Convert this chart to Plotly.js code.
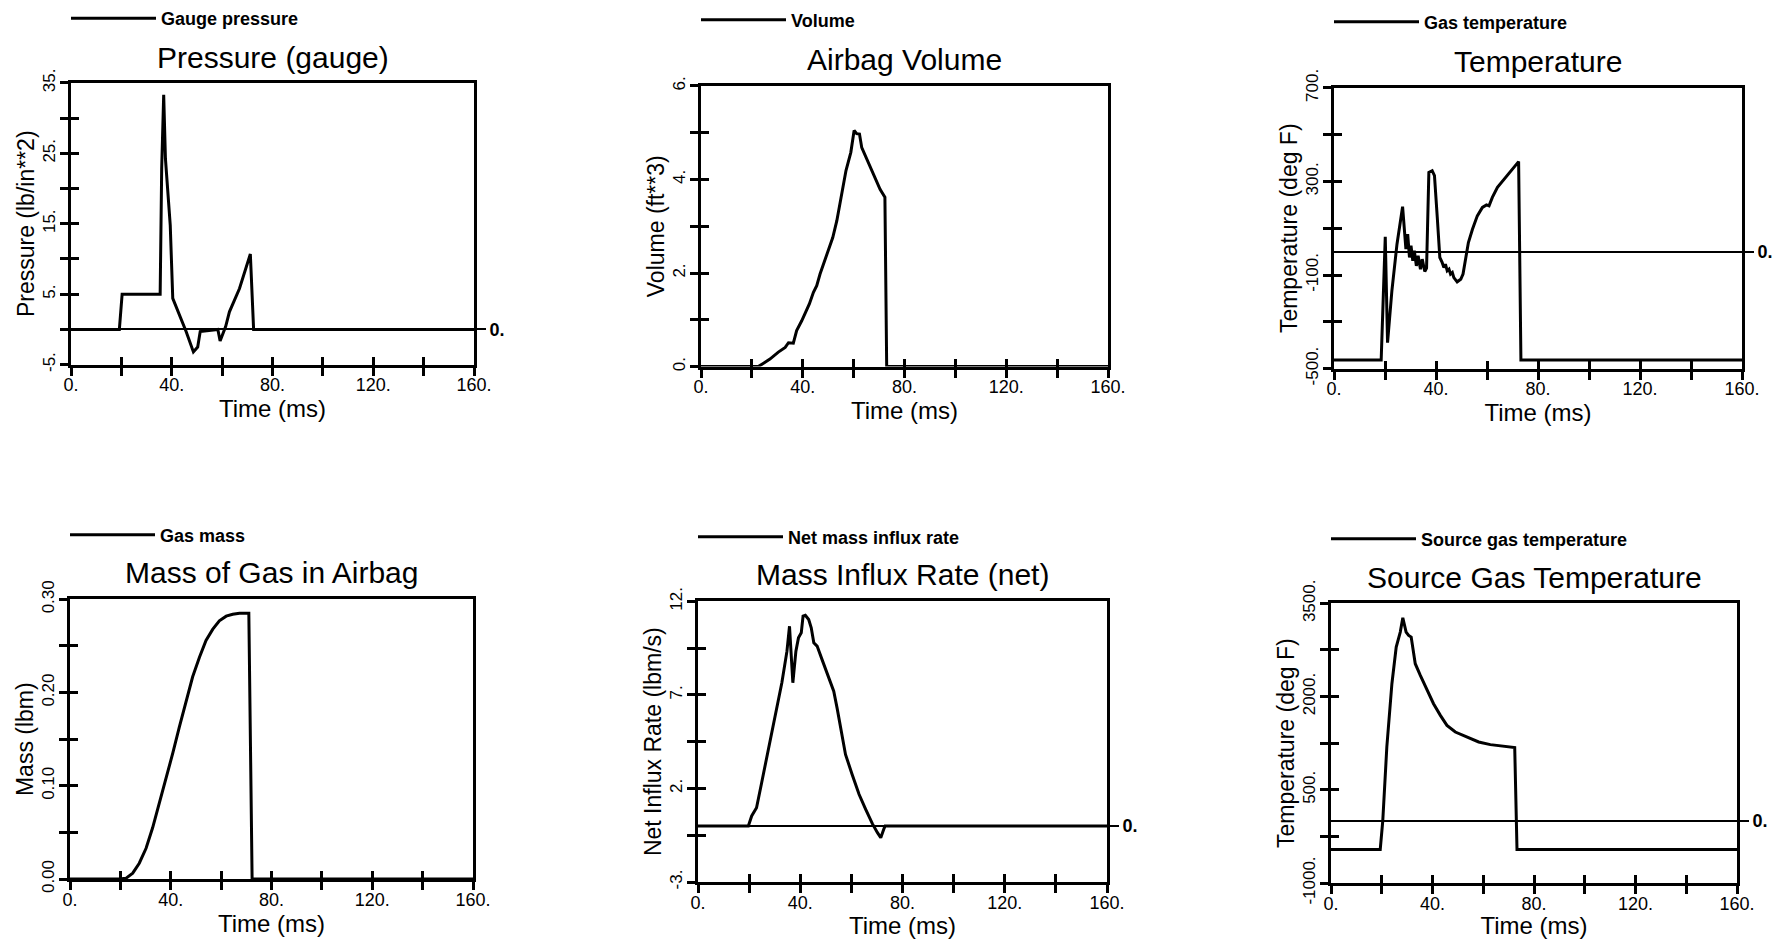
<!DOCTYPE html>
<html><head><meta charset="utf-8">
<script src="https://cdn.plot.ly/plotly-3.0.1.min.js"></script>
<style>html,body{margin:0;padding:0;background:#fff;}#chart{width:1776px;height:939px;}</style>
</head><body><div id="chart"></div>
<script>
// ---------- data ----------
const xTickVals = [0, 20, 40, 60, 80, 100, 120, 140, 160];
const xTickText = ['0.', '', '40.', '', '80.', '', '120.', '', '160.'];

const timePressure = [0, 19.2, 20.3, 35.4, 36.0, 36.8, 37.5, 39.4, 40.4, 45.7, 48.6, 50.3, 51.3, 58.3, 59.2, 61.4, 62.9, 66.9, 71.2, 72.5, 160];
const gaugePressure = [0, 0, 5.0, 5.0, 22.8, 33.3, 24.2, 14.8, 4.4, -0.3, -3.2, -2.5, -0.3, 0, -1.65, 0.4, 2.5, 5.8, 10.7, 0, 0];
const pressureTickVals = [-5, 0, 5, 10, 15, 20, 25, 30, 35];
const pressureTickText = ['-5.', '', '5.', '', '15.', '', '25.', '', '35.'];

const timeVolume = [0, 22.5, 27.1, 30.4, 33.1, 34.4, 36.3, 37.6, 39.6, 40.9, 42.6, 44.2, 45.5, 46.8, 48.8, 50.5, 51.8, 53.4, 55.3, 57.0, 58.9, 60.2, 61.2, 62.3, 63.2, 70.4, 72.3, 73.0, 160];
const volume = [0, 0, 0.16, 0.31, 0.41, 0.51, 0.50, 0.77, 0.98, 1.13, 1.34, 1.59, 1.73, 1.98, 2.30, 2.55, 2.76, 3.12, 3.69, 4.19, 4.58, 5.05, 4.98, 4.97, 4.68, 3.79, 3.62, 0, 0];
const volumeTickVals = [0, 1, 2, 3, 4, 5, 6];
const volumeTickText = ['0.', '', '2.', '', '4.', '', '6.'];

const timeGasTemp = [0, 18.5, 20.1, 21.0, 22.7, 24.7, 26.9, 27.7, 28.2, 28.9, 29.6, 30.2, 30.9, 31.5, 32.3, 33.0, 33.9, 34.6, 35.6, 36.3, 37.2, 38.5, 39.4, 40.5, 41.5, 42.4, 43.1, 43.7, 44.4, 45.1, 45.7, 46.4, 47.0, 48.3, 49.7, 50.6, 51.6, 52.7, 54.3, 56.2, 58.2, 59.8, 60.8, 62.1, 64.1, 66.7, 69.4, 72.4, 73.3, 160];
const gasTemp = [-463, -463, 64, -389, -168, 32, 192, 82, 11, 75, -25, 25, -39, 4, -61, -18, -75, -32, -85, -70, 339, 346, 325, 146, -25, -46, -68, -53, -82, -75, -96, -89, -111, -129, -118, -96, -25, 39, 96, 153, 189, 200, 196, 232, 275, 310, 343, 385, -463, -463];
const gasTempTickVals = [-500, -300, -100, 100, 300, 500, 700];
const gasTempTickText = ['-500.', '', '-100.', '', '300.', '', '700.'];

const timeMass = [0, 19.6, 22.3, 24.9, 27.5, 30.2, 32.8, 35.5, 38.1, 40.8, 43.4, 46.1, 48.7, 51.4, 54.0, 56.7, 59.3, 62.0, 64.6, 67.3, 71.0, 72.3, 160];
const gasMass = [0, 0, 0.001, 0.0064, 0.017, 0.033, 0.055, 0.081, 0.106, 0.135, 0.163, 0.192, 0.217, 0.238, 0.256, 0.268, 0.277, 0.282, 0.284, 0.285, 0.285, 0, 0];
const massTickVals = [0, 0.05, 0.10, 0.15, 0.20, 0.25, 0.30];
const massTickText = ['0.00', '', '0.10', '', '0.20', '', '0.30'];

const timeInflux = [0, 19.7, 21.0, 22.9, 24.9, 27.5, 30.2, 32.8, 34.8, 35.8, 37.1, 38.3, 39.3, 40.4, 41.1, 42.0, 43.3, 44.3, 45.3, 46.6, 48.5, 51.2, 53.1, 54.4, 55.7, 57.7, 60.3, 63.0, 65.6, 68.2, 70.2, 71.5, 72.8, 73.2, 160];
const netInflux = [0, 0, 0.53, 0.97, 2.31, 4.09, 5.87, 7.65, 9.34, 10.67, 7.65, 9.34, 10.05, 10.32, 11.21, 11.26, 11.03, 10.59, 9.79, 9.61, 8.9, 7.92, 7.2, 6.31, 5.25, 3.82, 2.75, 1.69, 0.89, 0.12, -0.36, -0.63, -0.13, 0, 0];
const influxTickVals = [-3, -0.5, 2, 4.5, 7, 9.5, 12];
const influxTickText = ['-3.', '', '2.', '', '7.', '', '12.'];

const timeSourceTemp = [0, 19.4, 20.4, 22.0, 24.0, 25.7, 27.3, 28.3, 29.6, 30.6, 31.6, 33.2, 35.2, 37.8, 40.4, 43.1, 45.7, 49.0, 53.6, 58.2, 62.8, 68.1, 72.4, 73.3, 160];
const sourceTemp = [-460, -460, 0, 1190, 2207, 2797, 3038, 3268, 3038, 2984, 2957, 2529, 2341, 2100, 1886, 1698, 1537, 1430, 1350, 1270, 1227, 1206, 1179, -460, -460];
const sourceTempTickVals = [-1000, -250, 500, 1250, 2000, 2750, 3500];
const sourceTempTickText = ['-1000.', '', '500.', '', '2000.', '', '3500.'];

const zeroTickVals = [0];
const zeroTickText = ['0.'];

// ---------- layout (pixel boxes of each panel) ----------
const W = 1776, H = 939;
const FONT = '"Liberation Sans", Arial, Helvetica, sans-serif';

const panels = [
  {legendName: 'Gauge pressure', title: 'Pressure (gauge)', xTitle: 'Time (ms)', yTitle: 'Pressure (lb/in**2)',
   t: timePressure, v: gaugePressure, yRange: [-5, 35], yTv: pressureTickVals, yTt: pressureTickText, zero: true,
   box: [71, 82, 474, 364], titleY: 57, legY: 18},
  {legendName: 'Volume', title: 'Airbag Volume', xTitle: 'Time (ms)', yTitle: 'Volume (ft**3)',
   t: timeVolume, v: volume, yRange: [0, 6], yTv: volumeTickVals, yTt: volumeTickText, zero: false,
   box: [701, 85, 1108, 366], titleY: 59, legY: 20},
  {legendName: 'Gas temperature', title: 'Temperature', xTitle: 'Time (ms)', yTitle: 'Temperature (deg F)',
   t: timeGasTemp, v: gasTemp, yRange: [-500, 700], yTv: gasTempTickVals, yTt: gasTempTickText, zero: true,
   box: [1334, 87, 1742, 368], titleY: 61, legY: 22},
  {legendName: 'Gas mass', title: 'Mass of Gas in Airbag', xTitle: 'Time (ms)', yTitle: 'Mass (lbm)',
   t: timeMass, v: gasMass, yRange: [0, 0.30], yTv: massTickVals, yTt: massTickText, zero: false,
   box: [70, 599, 473, 879], titleY: 572, legY: 535},
  {legendName: 'Net mass influx rate', title: 'Mass Influx Rate (net)', xTitle: 'Time (ms)', yTitle: 'Net Influx Rate (lbm/s)',
   t: timeInflux, v: netInflux, yRange: [-3, 12], yTv: influxTickVals, yTt: influxTickText, zero: true,
   box: [698, 601, 1107, 882], titleY: 574, legY: 537},
  {legendName: 'Source gas temperature', title: 'Source Gas Temperature', xTitle: 'Time (ms)', yTitle: 'Temperature (deg F)',
   t: timeSourceTemp, v: sourceTemp, yRange: [-1000, 3500], yTv: sourceTempTickVals, yTt: sourceTempTickText, zero: true,
   box: [1331, 603, 1737, 883], titleY: 577, legY: 539}
];

const traces = [];
const layout = {
  width: W, height: H, margin: {l: 0, r: 0, t: 0, b: 0},
  paper_bgcolor: '#fff', plot_bgcolor: 'rgba(0,0,0,0)',
  font: {family: FONT, color: '#000'},
  annotations: [], showlegend: true
};

panels.forEach((p, i) => {
  const k = i + 1;
  const s = k === 1 ? '' : String(k);
  const xName = 'x' + s, yName = 'y' + s;
  const xOv = 'x' + (k + 6), yOv = 'y' + (k + 6), yR = 'y' + (k + 12);
  const legName = k === 1 ? 'legend' : 'legend' + k;
  const [l, t, r, b] = p.box;
  const xd = [l / W, r / W], yd = [1 - b / H, 1 - t / H];

  traces.push({
    x: p.t, y: p.v, xaxis: xName, yaxis: yName, type: 'scatter', mode: 'lines',
    name: p.legendName, legend: legName, line: {color: '#000', width: 3}, hoverinfo: 'x+y'
  });
  // helper traces that only attach the overlay axes (crossing ticks, right-hand "0." axis)
  traces.push({x: [], y: [], xaxis: xOv, yaxis: yName, showlegend: false, hoverinfo: 'skip', type: 'scatter'});
  traces.push({x: [], y: [], xaxis: xName, yaxis: yOv, showlegend: false, hoverinfo: 'skip', type: 'scatter'});
  if (p.zero) traces.push({x: [], y: [], xaxis: xName, yaxis: yR, showlegend: false, hoverinfo: 'skip', type: 'scatter'});

  layout['xaxis' + s] = {
    domain: xd, anchor: yName, range: [0, 160], tickmode: 'array', tickvals: xTickVals, ticktext: xTickText,
    ticks: 'outside', ticklen: 8, tickwidth: 3, tickcolor: '#000', ticklabelstandoff: -6,
    showline: true, linewidth: 3, linecolor: '#000', mirror: true, showgrid: false, zeroline: false,
    tickfont: {size: 18, family: FONT},
    title: {text: p.xTitle, font: {size: 24, family: FONT}, standoff: 2}
  };
  layout['yaxis' + s] = {
    domain: yd, anchor: xName, range: p.yRange, tickmode: 'array', tickvals: p.yTv, ticktext: p.yTt, tickangle: -90,
    ticks: 'outside', ticklen: 8, tickwidth: 3, tickcolor: '#000', ticklabelstandoff: -2,
    showline: true, linewidth: 3, linecolor: '#000', mirror: !p.zero, showgrid: false,
    zeroline: p.zero, zerolinecolor: '#000', zerolinewidth: 2,
    tickfont: {size: 17, family: FONT},
    title: {text: p.yTitle, font: {size: 23, family: FONT}, standoff: 0}
  };
  layout['xaxis' + (k + 6)] = {
    overlaying: xName, anchor: yName, range: [0, 160], tickmode: 'array', tickvals: xTickVals,
    ticks: 'inside', ticklen: 8, tickwidth: 3, tickcolor: '#000', showticklabels: false,
    showline: false, showgrid: false, zeroline: false
  };
  layout['yaxis' + (k + 6)] = {
    overlaying: yName, anchor: xName, side: 'left', range: p.yRange, tickmode: 'array', tickvals: p.yTv,
    ticks: 'inside', ticklen: 8, tickwidth: 3, tickcolor: '#000', showticklabels: false,
    showline: false, showgrid: false, zeroline: false
  };
  if (p.zero) {
    layout['yaxis' + (k + 12)] = {
      overlaying: yName, anchor: xName, side: 'right', range: p.yRange, tickmode: 'array',
      tickvals: zeroTickVals, ticktext: zeroTickText,
      ticks: 'outside', ticklen: 9, tickwidth: 2, tickcolor: '#000',
      showline: true, linewidth: 3, linecolor: '#000', showgrid: false, zeroline: false,
      tickfont: {size: 18, family: FONT, weight: 'bold'}
    };
  }
  layout[legName] = {
    x: (l - 5) / W, xanchor: 'left', y: 1 - p.legY / H, yanchor: 'middle',
    bgcolor: 'rgba(0,0,0,0)', borderwidth: 0, itemwidth: 85,
    font: {size: 18, family: FONT, weight: 'bold'}
  };
  layout.annotations.push({
    text: p.title, xref: 'paper', yref: 'paper', x: (l + r) / 2 / W, y: 1 - p.titleY / H,
    xanchor: 'center', yanchor: 'middle', showarrow: false, font: {size: 30, family: FONT}
  });
});

Plotly.newPlot('chart', traces, layout, {displayModeBar: false, responsive: false});
</script>
</body></html>
